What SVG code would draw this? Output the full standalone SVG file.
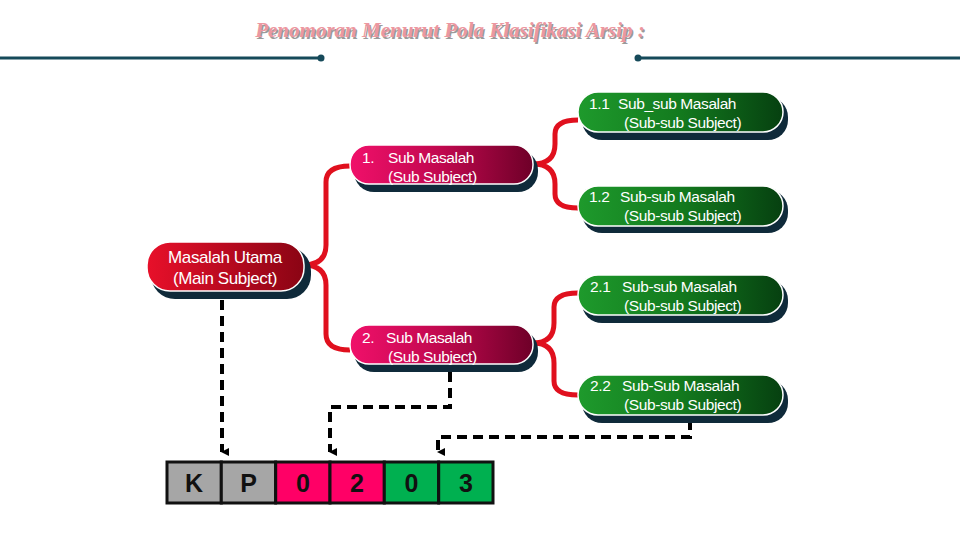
<svg xmlns="http://www.w3.org/2000/svg" width="960" height="540" viewBox="0 0 960 540">
<defs>
<linearGradient id="gRed" x1="0" y1="0" x2="1" y2="0"><stop offset="0" stop-color="#e8102a"/><stop offset="1" stop-color="#8a0414"/></linearGradient>
<linearGradient id="gPink" x1="0" y1="0" x2="1" y2="0"><stop offset="0" stop-color="#f0106a"/><stop offset="0.5" stop-color="#c0084e"/><stop offset="1" stop-color="#6e0028"/></linearGradient>
<linearGradient id="gGreen" x1="0" y1="0" x2="1" y2="0"><stop offset="0" stop-color="#1e9a2c"/><stop offset="0.5" stop-color="#137a1e"/><stop offset="1" stop-color="#064010"/></linearGradient>
<marker id="arr" markerWidth="8" markerHeight="8" refX="4" refY="7" orient="auto" markerUnits="userSpaceOnUse" viewBox="0 0 8 8"><path d="M0,0 L8,0 L4,8 Z" fill="#000"/></marker>
<style>
.sh{fill:#0f2a3a}
.pill{stroke:#fff;stroke-width:1.5}
.t{font-family:"Liberation Sans",Arial,sans-serif;fill:#fff;font-size:15.5px;letter-spacing:-0.4px}
.tm{font-size:17px}
.brace{fill:none;stroke:#e0101e;stroke-width:5;stroke-linejoin:round}
.dash{fill:none;stroke:#000;stroke-width:4;stroke-dasharray:10,6}
.cell{stroke:#111;stroke-width:3}
.ct{font-family:"Liberation Sans",Arial,sans-serif;font-size:25px;font-weight:bold;fill:#111;text-anchor:middle}
.hl{stroke:#164a5a;stroke-width:3}
</style>
</defs>
<rect width="960" height="540" fill="#fff"/>
<g id="title">
<text x="451.5" y="38.5" font-family="'Liberation Serif',serif" font-style="italic" font-weight="bold" font-size="21" fill="#9a9a9a" text-anchor="middle">Penomoran Menurut Pola Klasifikasi Arsip :</text>
<text x="450" y="37" font-family="'Liberation Serif',serif" font-style="italic" font-weight="bold" font-size="21" fill="#ec97a0" text-anchor="middle">Penomoran Menurut Pola Klasifikasi Arsip :</text>
<line class="hl" x1="0" y1="58" x2="321" y2="58"/><circle cx="321" cy="58" r="3.5" fill="#164a5a"/>
<line class="hl" x1="638" y1="58" x2="960" y2="58"/><circle cx="638" cy="58" r="3.5" fill="#164a5a"/>
</g>
<g id="connectors">
<path class="brace" d="M303,265 Q326,265 326,245 L326,182 Q326,166 350,166"/>
<path class="brace" d="M303,265 Q326,265 326,285 L326,334 Q326,350 350,350"/>
<path class="brace" d="M533,164 Q555,164 555,144 L555,134 Q555,120 578,120"/>
<path class="brace" d="M533,164 Q555,164 555,184 L555,194 Q555,208 578,208"/>
<path class="brace" d="M533,343 Q554,343 554,323 L554,307 Q554,293 578,293"/>
<path class="brace" d="M533,343 Q554,343 554,363 L554,381 Q554,395 578,395"/>
<path class="dash" d="M222,300 L222,452" marker-end="url(#arr)"/>
<path class="dash" d="M450,372 L450,407 L330,407 L330,452" marker-end="url(#arr)"/>
<path class="dash" d="M690,420 L690,437 L438,437 L438,452" marker-end="url(#arr)"/>
</g>
<g id="main">
<rect class="sh" x="151" y="247" width="160" height="52" rx="24"/>
<rect class="pill" x="147" y="242" width="157" height="49" rx="23" fill="url(#gRed)"/>
<text class="t tm" x="225" y="263" text-anchor="middle">Masalah Utama</text>
<text class="t tm" x="225" y="284" text-anchor="middle">(Main Subject)</text>
</g>
<g id="sub1">
<rect class="sh" x="354" y="150" width="184" height="42" rx="20"/>
<rect class="pill" x="350" y="145" width="183" height="39" rx="19" fill="url(#gPink)"/>
<text class="t" x="362" y="163">1.</text>
<text class="t" x="388" y="163">Sub Masalah</text>
<text class="t" x="388" y="182">(Sub Subject)</text>
</g>
<g id="sub2">
<rect class="sh" x="354" y="330" width="184" height="42" rx="20"/>
<rect class="pill" x="350" y="325" width="183" height="39" rx="19" fill="url(#gPink)"/>
<text class="t" x="362" y="343">2.</text>
<text class="t" x="386" y="343">Sub Masalah</text>
<text class="t" x="388" y="362">(Sub Subject)</text>
</g>
<g id="n11">
<rect class="sh" x="582" y="97" width="206" height="43" rx="20"/>
<rect class="pill" x="578" y="92" width="205" height="40" rx="20" fill="url(#gGreen)"/>
<text class="t" x="589" y="109">1.1</text>
<text class="t" x="618" y="109">Sub_sub Masalah</text>
<text class="t" x="624" y="128">(Sub-sub Subject)</text>
</g>
<g id="n12">
<rect class="sh" x="582" y="190" width="206" height="43" rx="20"/>
<rect class="pill" x="578" y="186" width="205" height="40" rx="20" fill="url(#gGreen)"/>
<text class="t" x="589" y="202">1.2</text>
<text class="t" x="620" y="202">Sub-sub Masalah</text>
<text class="t" x="624" y="221">(Sub-sub Subject)</text>
</g>
<g id="n21">
<rect class="sh" x="582" y="280" width="206" height="43" rx="20"/>
<rect class="pill" x="578" y="275" width="205" height="40" rx="20" fill="url(#gGreen)"/>
<text class="t" x="590" y="292">2.1</text>
<text class="t" x="622" y="292">Sub-sub Masalah</text>
<text class="t" x="624" y="311">(Sub-sub Subject)</text>
</g>
<g id="n22">
<rect class="sh" x="582" y="380" width="206" height="43" rx="20"/>
<rect class="pill" x="578" y="375" width="205" height="40" rx="20" fill="url(#gGreen)"/>
<text class="t" x="590" y="391">2.2</text>
<text class="t" x="622" y="391">Sub-Sub Masalah</text>
<text class="t" x="624" y="410">(Sub-sub Subject)</text>
</g>
<g id="code">
<rect class="cell" x="167" y="462" width="54.3" height="41" fill="#a6a6a6"/>
<rect class="cell" x="221.3" y="462" width="54.3" height="41" fill="#a6a6a6"/>
<rect class="cell" x="275.7" y="462" width="54.3" height="41" fill="#ff0066"/>
<rect class="cell" x="330" y="462" width="54.3" height="41" fill="#ff0066"/>
<rect class="cell" x="384.3" y="462" width="54.3" height="41" fill="#00b050"/>
<rect class="cell" x="438.7" y="462" width="54.3" height="41" fill="#00b050"/>
<text class="ct" x="194" y="492">K</text>
<text class="ct" x="248.5" y="492">P</text>
<text class="ct" x="303" y="492">0</text>
<text class="ct" x="357" y="492">2</text>
<text class="ct" x="411.5" y="492">0</text>
<text class="ct" x="466" y="492">3</text>
</g>
</svg>
